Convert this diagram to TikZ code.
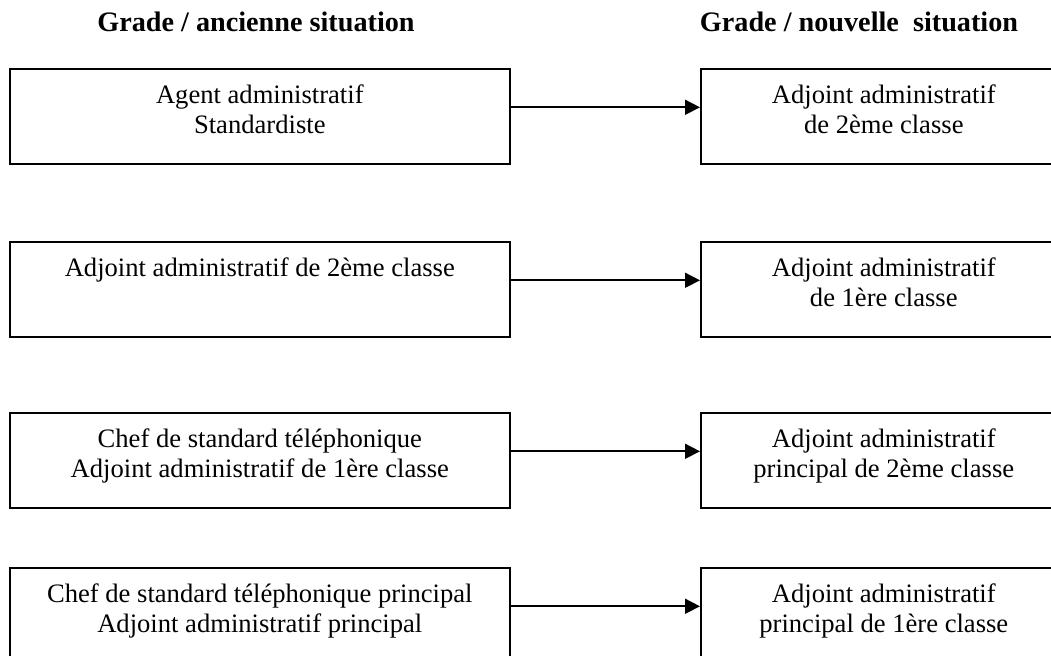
\documentclass[tikz,border=0pt]{standalone}
\usepackage{fontspec}
\setmainfont{Liberation Serif}
\usetikzlibrary{arrows.meta,positioning}

\begin{document}
\begin{tikzpicture}[x=.5pt,y=-.5pt,
    gradebox/.style={draw,line width=.8pt,anchor=north west,inner sep=0pt,minimum height=47.5pt},
    oldgrade/.style={gradebox,minimum width=250pt},
    newgrade/.style={gradebox,minimum width=183pt},
    gradetext/.style={align=center,inner sep=0pt,font=\fontsize{13.3pt}{14.8pt}\selectfont},
    headtitle/.style={anchor=base,inner sep=0pt,font=\fontsize{14.1pt}{16pt}\selectfont\bfseries},
    move/.style={line width=.8pt,-{Triangle[length=7.5pt,width=7.5pt]}}]
  \useasboundingbox (0,0) rectangle (1051,656);

  %% headings
  \node[headtitle] (oldtitle) at (256,32) {Grade / ancienne situation};
  \node[headtitle] (newtitle) at (859,32) {Grade / nouvelle\ \ situation};

  %% old grades
  \node[oldgrade] (old1) at (9,68) {};
  \node[oldgrade] (old2) at (9,241) {};
  \node[oldgrade] (old3) at (9,412) {};
  \node[oldgrade] (old4) at (9,567) {};

  \node[gradetext,below=7.3pt of old1.north] (old1t) {\strut Agent administratif\\Standardiste};
  \node[gradetext,below=7.3pt of old2.north] (old2t) {\strut Adjoint administratif de 2ème classe};
  \node[gradetext,below=7.3pt of old3.north] (old3t) {\strut Chef de standard téléphonique\\Adjoint administratif de 1ère classe};
  \node[gradetext,below=7.3pt of old4.north] (old4t) {\strut Chef de standard téléphonique principal\\Adjoint administratif principal};

  %% new grades
  \node[newgrade] (new1) at (700,68) {};
  \node[newgrade] (new2) at (700,241) {};
  \node[newgrade] (new3) at (700,412) {};
  \node[newgrade] (new4) at (700,567) {};

  \node[gradetext,below=7.3pt of new1.north] (new1t) {\strut Adjoint administratif\\de 2ème classe};
  \node[gradetext,below=7.3pt of new2.north] (new2t) {\strut Adjoint administratif\\de 1ère classe};
  \node[gradetext,below=7.3pt of new3.north] (new3t) {\strut Adjoint administratif\\principal de 2ème classe};
  \node[gradetext,below=7.3pt of new4.north] (new4t) {\strut Adjoint administratif\\principal de 1ère classe};

  %% arrows
  \draw[move] ([yshift=4.5pt]old1.east) -- ([yshift=4.5pt]new1.west);
  \draw[move] ([yshift=4.5pt]old2.east) -- ([yshift=4.5pt]new2.west);
  \draw[move] ([yshift=4.5pt]old3.east) -- ([yshift=4.5pt]new3.west);
  \draw[move] ([yshift=4.5pt]old4.east) -- ([yshift=4.5pt]new4.west);
\end{tikzpicture}
\end{document}
